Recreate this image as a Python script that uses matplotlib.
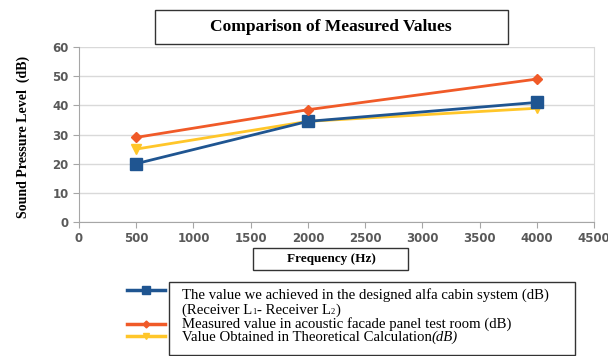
import matplotlib
matplotlib.use("Agg")
import matplotlib.pyplot as plt
from matplotlib.lines import Line2D
from matplotlib.patches import Rectangle

freq = [500, 2000, 4000]
alfa_cabin = [20, 34.5, 41]
facade_room = [29, 38.5, 49]
theoretical = [25, 34.5, 39]
xticks = [0, 500, 1000, 1500, 2000, 2500, 3000, 3500, 4000, 4500]
yticks = [0, 10, 20, 30, 40, 50, 60]

label_1 = "The value we achieved in the designed alfa cabin system (dB)"
label_1b = [("(Receiver L", False), ("1", True), ("- Receiver L", False), ("2", True), (")", False)]
label_2 = "Measured value in acoustic facade panel test room (dB)"
label_3 = "Value Obtained in Theoretical Calculation"

c_blue = "#1F5591"
c_orange = "#F05A28"
c_yellow = "#FFC629"
serif = "Liberation Serif"

W, H = 608, 356
fig = plt.figure(figsize=(W / 100, H / 100), dpi=100)
ax = fig.add_axes([79 / W, 1 - 222 / H, (594 - 79) / W, (222 - 47) / H])

ax.plot(freq, alfa_cabin, color=c_blue, lw=2, marker="s", ms=8, zorder=3)
ax.plot(freq, facade_room, color=c_orange, lw=2, marker="D", ms=5, zorder=3)
ax.plot(freq, theoretical, color=c_yellow, lw=2, marker="v", ms=7, zorder=2)

ax.set_xlim(0, 4500)
ax.set_ylim(0, 60)
ax.set_xticks(xticks)
ax.set_yticks(yticks)
ax.grid(axis="y", color="#D9D9D9", lw=1)
ax.set_axisbelow(True)
ax.spines["top"].set_visible(False)
ax.spines["right"].set_color("#D9D9D9")
ax.spines["left"].set_color("#A6A6A6")
ax.spines["bottom"].set_color("#A6A6A6")
ax.tick_params(axis="both", labelsize=8.5, colors="#A6A6A6", length=4.5, width=0.8, pad=3)
for lab in ax.get_xticklabels() + ax.get_yticklabels():
    lab.set_color("#595959")
    lab.set_fontweight("semibold")

# y label
fig.text(23 / W, 1 - 137 / H, "Sound Pressure Level  (dB)", rotation=90,
         ha="center", va="center", family=serif, fontweight="bold", fontsize=10)

# title box
fig.patches.append(Rectangle((155 / W, 1 - 44 / H), (508 - 155) / W, 34 / H,
                             transform=fig.transFigure, fill=False, ec="#333333", lw=1))
fig.text(331 / W, 1 - 27 / H, "Comparison of Measured Values", ha="center", va="center",
         family=serif, fontweight="bold", fontsize=12.5)

# x label box
fig.patches.append(Rectangle((253 / W, 1 - 270 / H), (408 - 253) / W, 22 / H,
                             transform=fig.transFigure, fill=False, ec="#333333", lw=1))
fig.text(331 / W, 1 - 259 / H, "Frequency (Hz)", ha="center", va="center",
         family=serif, fontweight="bold", fontsize=9.5)

# legend box
fig.patches.append(Rectangle((169 / W, 1 - 355 / H), (575 - 169) / W, 73 / H,
                             transform=fig.transFigure, fill=False, ec="#333333", lw=1))
handles = [(c_blue, "s", 6, 290), (c_orange, "D", 3.5, 324), (c_yellow, "v", 5, 336)]
for col, mk, ms, yy in handles:
    fig.add_artist(Line2D([127 / W, 165 / W], [1 - yy / H, 1 - yy / H], color=col, lw=2.5,
                          transform=fig.transFigure))
    fig.add_artist(Line2D([146 / W], [1 - yy / H], color=col, marker=mk, ms=ms,
                          transform=fig.transFigure))

fs = 10.6
x0 = 182
fig.text(x0 / W, 1 - 299 / H, label_1, ha="left", va="baseline", family=serif, fontsize=fs)
fig.text(x0 / W, 1 - 328 / H, label_2, ha="left", va="baseline", family=serif, fontsize=fs)
t3 = fig.text(x0 / W, 1 - 341 / H, label_3, ha="left", va="baseline", family=serif, fontsize=fs)
fig.canvas.draw()
bb = t3.get_window_extent()
fig.text(bb.x1 / W, 1 - 341 / H, "(dB)", ha="left", va="baseline", family=serif,
         fontsize=fs, style="italic")

# second line with small subscripts
xc = x0
for part, sub in label_1b:
    yb = 314 + (0 if not sub else 0.5)
    t = fig.text(xc / W, 1 - yb / H, part, ha="left", va="baseline", family=serif,
                 fontsize=(6 if sub else fs))
    fig.canvas.draw()
    xc = t.get_window_extent().x1 + (0.5 if sub else 0)

fig.savefig("out.png", dpi=100)
